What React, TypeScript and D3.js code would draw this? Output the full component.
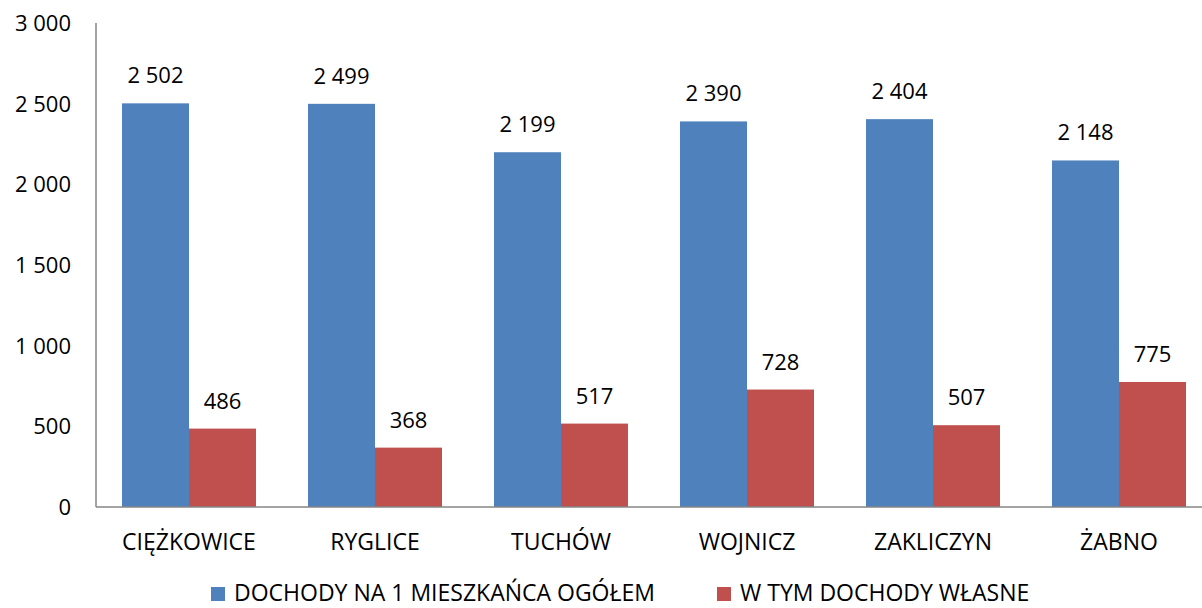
import * as d3 from 'd3';
import React, { useEffect, useRef } from 'react';

const categories = ['CIĘŻKOWICE', 'RYGLICE', 'TUCHÓW', 'WOJNICZ', 'ZAKLICZYN', 'ŻABNO'];
const series = ['DOCHODY NA 1 MIESZKAŃCA OGÓŁEM', 'W TYM DOCHODY WŁASNE'];
const totalValues = [2502, 2499, 2199, 2390, 2404, 2148];
const ownValues = [486, 368, 517, 728, 507, 775];
const yTicks = [0, 500, 1000, 1500, 2000, 2500, 3000];
const colors = ['#4F81BD', '#C0504D'];

const fmt = (v: number) => d3.format(',')(v).replace(/,/g, ' ');

const App = () => {
  const ref = useRef<SVGSVGElement | null>(null);

  useEffect(() => {
    const width = 1202, height = 608;
    const margin = { top: 23, left: 96, bottom: 101 };
    const font = '"Open Sans", sans-serif';
    const numSize = 22;
    const textSize = 23;

    const svg = d3.select(ref.current);
    svg.selectAll('*').remove();
    svg.attr('width', width).attr('height', height);

    const rows = categories.map((c, i) => ({ cat: c, values: [totalValues[i], ownValues[i]] }));

    // group step is 186px, the last group runs past the right edge like the original
    const x0 = d3.scaleBand().domain(categories).range([margin.left, margin.left + 186 * 6]).paddingInner(0);
    const x1 = d3.scaleBand().domain(series).range([0, x0.bandwidth()]).paddingOuter(0.388).paddingInner(0);
    const y = d3.scaleLinear().domain([0, 3000]).range([height - margin.bottom, margin.top]);

    // y axis labels
    svg.append('g')
      .selectAll('text')
      .data(yTicks)
      .join('text')
      .attr('x', 71)
      .attr('y', d => y(d) + 8)
      .attr('text-anchor', 'end')
      .attr('font-family', font)
      .attr('font-size', numSize)
      .attr('fill', '#000')
      .text(d => fmt(d));

    const groups = svg.append('g')
      .selectAll('g')
      .data(rows)
      .join('g')
      .attr('transform', d => `translate(${x0(d.cat)},0)`);

    groups.selectAll('rect')
      .data(d => d.values.map((v, j) => ({ key: series[j], v, j })))
      .join('rect')
      .attr('x', d => x1(d.key)!)
      .attr('y', d => y(d.v))
      .attr('width', x1.bandwidth())
      .attr('height', d => y(0) - y(d.v))
      .attr('fill', d => colors[d.j]);

    groups.selectAll('text.val')
      .data(d => d.values.map((v, j) => ({ key: series[j], v, j })))
      .join('text')
      .attr('class', 'val')
      .attr('x', d => x1(d.key)! + x1.bandwidth() / 2)
      .attr('y', d => y(d.v) - 20)
      .attr('text-anchor', 'middle')
      .attr('font-family', font)
      .attr('font-size', numSize)
      .attr('fill', '#000')
      .text(d => fmt(d.v));

    // axis lines
    svg.append('line')
      .attr('x1', margin.left).attr('x2', margin.left)
      .attr('y1', y(3000)).attr('y2', y(0))
      .attr('stroke', '#868686').attr('stroke-width', 1.5);
    svg.append('line')
      .attr('x1', margin.left).attr('x2', width)
      .attr('y1', y(0)).attr('y2', y(0))
      .attr('stroke', '#868686').attr('stroke-width', 1.5);

    // category labels
    svg.append('g')
      .selectAll('text')
      .data(categories)
      .join('text')
      .attr('x', d => x0(d)! + x0.bandwidth() / 2)
      .attr('y', 550)
      .attr('text-anchor', 'middle')
      .attr('font-family', font)
      .attr('font-size', textSize)
      .attr('fill', '#000')
      .text(d => d);

    // legend (nudged up a little so it is not clipped at the bottom)
    const legendX = [211, 717];
    const legend = svg.append('g')
      .selectAll('g')
      .data(series)
      .join('g')
      .attr('transform', (d, i) => `translate(${legendX[i]},587)`);
    legend.append('rect')
      .attr('width', 14).attr('height', 14)
      .attr('fill', (d, i) => colors[i]);
    legend.append('text')
      .attr('x', 23).attr('y', 14)
      .attr('font-family', font)
      .attr('font-size', textSize)
      .attr('fill', '#000')
      .text(d => d);
  }, []);

  return <svg ref={ref} style={{ position: 'absolute', left: 0, top: 0 }}></svg>;
};

export default App;
